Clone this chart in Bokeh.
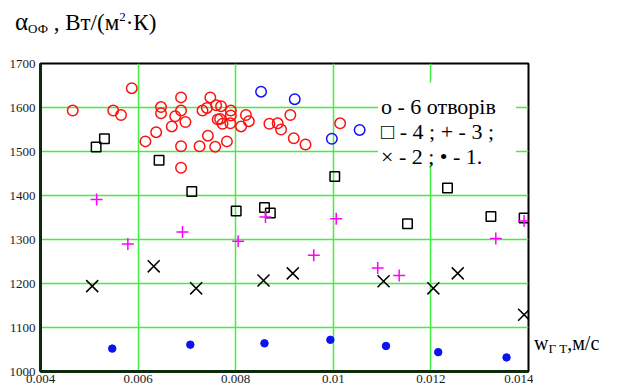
from bokeh.plotting import figure
from bokeh.models import (Label, BoxAnnotation, FixedTicker, Range1d, Div,
                          LinearAxis, Grid)
from bokeh.layouts import column, row
from bokeh.embed import file_html
from bokeh.resources import INLINE

# ---- data ----
x6_red = [0.00466, 0.00549, 0.00565, 0.00587, 0.00615, 0.00637, 0.00647, 0.00647,
          0.00669, 0.00676, 0.00688, 0.00688, 0.00697, 0.00688, 0.00688, 0.00726,
          0.00732, 0.00741, 0.00743, 0.00748, 0.00758, 0.00760, 0.00763, 0.00768,
          0.00770, 0.00773, 0.00782, 0.00790, 0.00790, 0.00789, 0.00811, 0.00821,
          0.00827, 0.00869, 0.00886, 0.00893, 0.00912, 0.00919, 0.00943, 0.01014]
y6_red = [1593, 1593, 1583, 1644, 1523, 1544, 1601, 1587,
          1557, 1580, 1623, 1593, 1567, 1512, 1463, 1512,
          1593, 1599, 1536, 1623, 1511, 1605, 1573, 1574,
          1603, 1563, 1523, 1593, 1582, 1564, 1557, 1583,
          1569, 1563, 1564, 1550, 1583, 1530, 1516, 1564]
x6_blue = [0.00852, 0.00921, 0.00997, 0.01054]
y6_blue = [1636, 1619, 1529, 1549]
x4 = [0.00514, 0.00531, 0.00643, 0.00710, 0.00801, 0.00859, 0.00871, 0.01003,
      0.01152, 0.01234, 0.01323, 0.01391]
y4 = [1510, 1529, 1480, 1409, 1365, 1373, 1360, 1443, 1336, 1417, 1352, 1349]
x3 = [0.00515, 0.00579, 0.00691, 0.00805, 0.00861, 0.00960, 0.01006, 0.01091,
      0.01135, 0.01333, 0.01391]
y3 = [1391, 1290, 1317, 1296, 1351, 1264, 1347, 1235, 1218, 1302, 1342]
x2 = [0.00506, 0.00632, 0.00719, 0.00857, 0.00917, 0.01103, 0.01205, 0.01255, 0.01391]
y2 = [1194, 1239, 1189, 1207, 1223, 1205, 1189, 1223, 1129]
x1 = [0.00547, 0.00707, 0.00859, 0.00994, 0.01108, 0.01215, 0.01355]
y1 = [1052, 1061, 1064, 1072, 1058, 1044, 1032]

x_ticks = [0.004, 0.006, 0.008, 0.010, 0.012, 0.014]
x_tick_labels = ["0.004", "0.006", "0.008", "0.01", "0.012", "0.014"]
y_ticks = [1000, 1100, 1200, 1300, 1400, 1500, 1600, 1700]

key_lines = ["o - 6 отворів", "□ - 4 ; + - 3 ;", "× - 2 ; • - 1."]

SERIF = "Liberation Serif"
GRID = "#40f040"

p = figure(width=533, height=340, output_backend="svg", toolbar_location=None,
           x_range=Range1d(0.004, 0.014), y_range=Range1d(1000, 1700),
           x_axis_type=None, y_axis_type=None,
           min_border_left=40, min_border_right=5, min_border_top=13,
           min_border_bottom=19)
p.background_fill_color = "white"
p.border_fill_color = "white"
p.outline_line_color = "black"
p.outline_line_width = 2

xt = FixedTicker(ticks=x_ticks)
yt = FixedTicker(ticks=y_ticks)
axis_style = dict(axis_line_color="#0c2a0c", axis_line_width=3,
                  major_tick_in=0, major_tick_out=0, minor_tick_in=0, minor_tick_out=0,
                  major_label_text_font=SERIF, major_label_text_font_size="13px",
                  major_label_text_color="#1a1a1a")
xaxis = LinearAxis(ticker=xt, major_label_standoff=3,
                   major_label_overrides={t: l for t, l in zip(x_ticks, x_tick_labels)},
                   **axis_style)
yaxis = LinearAxis(ticker=yt, major_label_standoff=5, **axis_style)
p.add_layout(xaxis, "below")
p.add_layout(yaxis, "left")
p.add_layout(Grid(dimension=0, ticker=xt, grid_line_color=GRID, grid_line_width=1.5))
p.add_layout(Grid(dimension=1, ticker=yt, grid_line_color=GRID, grid_line_width=1.5))

# white background behind the key text
p.add_layout(BoxAnnotation(left=0.010916, right=0.013744, bottom=1472.7, top=1656.8,
                           fill_color="white", fill_alpha=1.0, line_color=None,
                           level="underlay"))

p.scatter(x6_red, y6_red, marker="circle", size=10.5, fill_color=None,
          line_color="#ff1010", line_width=1.5)
p.scatter(x6_blue, y6_blue, marker="circle", size=10.5, fill_color=None,
          line_color="#1010ff", line_width=1.5)
p.scatter(x4, y4, marker="square", size=9.5, fill_color=None,
          line_color="black", line_width=1.5)
p.scatter(x3, y3, marker="cross", size=12, line_color="#ff00ff", line_width=1.5)
p.scatter(x2, y2, marker="x", size=17, line_color="black", line_width=1.5)
p.scatter(x1, y1, marker="circle", size=7.5, fill_color="#0a14f0", line_color="#0a14f0")

for t, yy in zip(key_lines, [1602.3, 1545.5, 1488.6]):
    p.add_layout(Label(x=0.010977, y=yy, text=t, text_font=SERIF, text_font_size="22px",
                       text_color="black", text_baseline="alphabetic"))

title_div = Div(
    text=('<div style="padding:12px 0 0 15px; font-family:\'Liberation Serif\', serif; '
          'font-size:23px; line-height:20px; white-space:nowrap; color:#000">'
          '<span style="font-size:25px">α</span>'
          '<span style="font-size:13px; position:relative; top:3px">ОФ</span>'
          ' , Вт/(м'
          '<span style="font-size:13px; position:relative; top:-9px">2</span>'
          '·К)</div>'),
    width=628, height=50, margin=0)

xlab_div = Div(
    text=('<div style="padding:285px 0 0 1px; font-family:\'Liberation Serif\', serif; '
          'font-size:20px; line-height:16px; white-space:nowrap; color:#000">'
          'w<span style="font-size:13px; position:relative; top:3px">Г Т</span>'
          ',м/с</div>'),
    width=95, height=340, margin=0)

layout = column(title_div, row(p, xlab_div, spacing=0), spacing=0)

open("out.html", "w").write(file_html(layout, INLINE))
